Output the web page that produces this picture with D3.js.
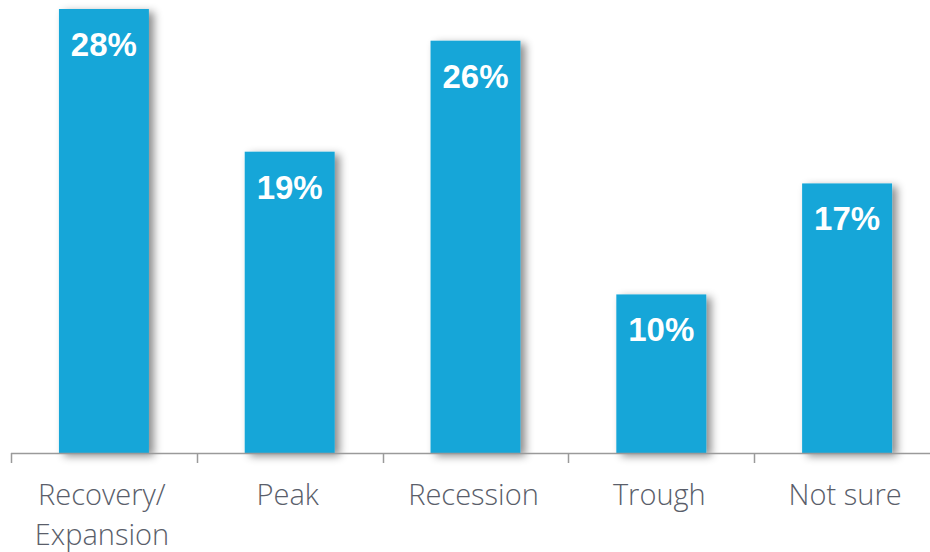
<!DOCTYPE html>
<html>
<head>
<meta charset="utf-8">
<script src="https://cdn.jsdelivr.net/npm/d3@7"></script>
<style>
  html, body { margin: 0; padding: 0; background: #ffffff; }
  svg { display: block; }
</style>
</head>
<body>
<svg id="chart" width="930" height="552"></svg>
<script>
// Survey responses: where in the business cycle the economy is
const categories = ["Recovery/\nExpansion", "Peak", "Recession", "Trough", "Not sure"];
const values = [28, 19, 26, 10, 17];
const valueLabels = ["28%", "19%", "26%", "10%", "17%"];

const svg = d3.select("#chart");
const W = 930, H = 552;
const baseY = 453;

const x = d3.scaleBand()
  .domain(categories)
  .range([11, 940])
  .paddingInner(0.516)
  .paddingOuter(0.258);

const y = d3.scaleLinear().domain([0, 28]).range([baseY, 9]);

// soft shadow falling to the right of each bar
const defs = svg.append("defs");
const f = defs.append("filter").attr("id", "barShadow")
  .attr("x", "-10%").attr("y", "-10%").attr("width", "140%").attr("height", "120%");
f.append("feDropShadow")
  .attr("dx", 5).attr("dy", 3).attr("stdDeviation", 4)
  .attr("flood-color", "#000").attr("flood-opacity", 0.45);

const bars = svg.append("g");
bars.selectAll("rect")
  .data(values)
  .join("rect")
  .attr("x", (d, i) => x(categories[i]))
  .attr("y", d => y(d))
  .attr("width", x.bandwidth())
  .attr("height", d => baseY - y(d))
  .attr("fill", "#12a6d8")
  .attr("filter", "url(#barShadow)");

// value labels inside bar tops
svg.append("g").selectAll("text")
  .data(values)
  .join("text")
  .attr("x", (d, i) => x(categories[i]) + x.bandwidth() / 2)
  .attr("y", d => y(d) + 47)
  .attr("text-anchor", "middle")
  .attr("fill", "#ffffff")
  .attr("font-family", "Liberation Sans, Arial, sans-serif")
  .attr("font-weight", "bold")
  .attr("font-size", 33)
  .text((d, i) => valueLabels[i]);

// category axis with tick marks between bands
const axisG = svg.append("g");
axisG.append("line")
  .attr("x1", 11).attr("x2", W)
  .attr("y1", baseY + 0.5).attr("y2", baseY + 0.5)
  .attr("stroke", "#9a9a9a").attr("stroke-width", 1.5);

const step = x.step();
const tickXs = d3.range(categories.length + 1).map(i => x(categories[0]) - x.paddingOuter() * step + i * step);
axisG.selectAll("line.tick")
  .data(tickXs)
  .join("line")
  .attr("class", "tick")
  .attr("x1", d => Math.round(d) + 0.5).attr("x2", d => Math.round(d) + 0.5)
  .attr("y1", baseY).attr("y2", baseY + 10)
  .attr("stroke", "#9a9a9a").attr("stroke-width", 1.5);

const lab = axisG.selectAll("text.cat")
  .data(categories)
  .join("text")
  .attr("class", "cat")
  .attr("x", d => x(d) + x.bandwidth() / 2 - 2)
  .attr("y", 505)
  .attr("text-anchor", "middle")
  .attr("fill", "#5a5e6a")
  .attr("font-family", "Open Sans, sans-serif")
  .attr("font-weight", 300)
  .attr("font-size", 29);

lab.each(function(d) {
  const t = d3.select(this);
  d.split("\n").forEach((line, i) => {
    t.append("tspan")
      .attr("x", t.attr("x"))
      .attr("dy", i === 0 ? 0 : 40)
      .text(line);
  });
});
</script>
</body>
</html>
